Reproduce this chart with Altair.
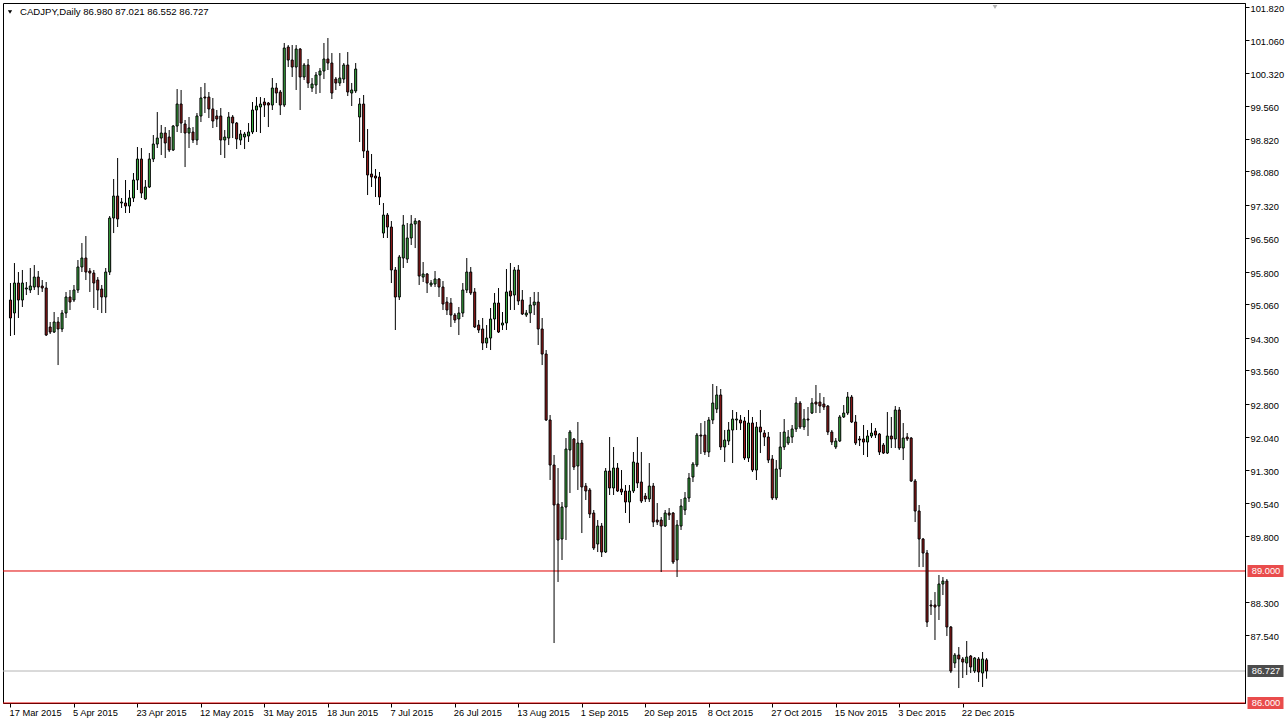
import json
import altair as alt
import pandas as pd

# Daily CAD/JPY candles, 17 Mar 2015 - 29 Dec 2015 (six sessions per week)
open_ = [
    95.159, 94.864, 95.545, 95.159, 95.409, 95.386, 95.454, 95.681, 95.477, 95.432,
    94.545, 94.431, 94.659, 94.500, 94.863, 95.227, 95.159, 95.386, 95.909, 96.113,
    95.818, 95.772, 95.613, 95.409, 95.227, 95.795, 97.022, 97.522, 97.363, 97.363,
    97.295, 97.477, 97.886, 98.363, 97.454, 97.727, 98.363, 98.704, 98.840, 98.954,
    98.863, 98.568, 99.113, 99.613, 99.159, 98.954, 98.977, 98.795, 99.341, 99.772,
    99.772, 99.500, 99.341, 99.341, 98.795, 98.840, 99.318, 99.181, 98.795, 98.863,
    98.886, 98.977, 99.477, 99.545, 99.659, 99.636, 99.590, 99.977, 99.886, 99.590,
    100.909, 100.613, 100.454, 100.863, 100.227, 100.500, 99.977, 100.045, 100.272, 100.363,
    100.636, 100.545, 100.181, 100.090, 100.181, 100.500, 99.863, 99.909, 99.318, 99.613,
    98.545, 98.022, 97.977, 97.954, 96.681, 97.090, 96.818, 95.841, 95.227, 96.113,
    96.090, 96.568, 96.886, 96.954, 95.681, 95.750, 95.500, 95.522, 95.636, 95.454,
    95.113, 95.090, 94.818, 94.727, 94.863, 95.386, 95.795, 95.341, 94.590, 94.500,
    94.181, 94.295, 94.727, 95.090, 94.590, 94.636, 95.363, 95.272, 95.841, 95.159,
    94.818, 94.863, 95.045, 95.113, 94.500, 93.931, 92.432, 91.409, 90.522, 89.727,
    90.454, 91.750, 92.000, 91.386, 91.909, 90.931, 90.841, 90.318, 89.613, 90.022,
    89.431, 91.272, 90.886, 91.340, 90.863, 90.818, 90.568, 90.818, 91.454, 91.022,
    90.704, 90.636, 90.931, 90.159, 90.159, 90.022, 90.318, 90.318, 89.250, 90.022,
    90.386, 90.659, 91.136, 91.409, 92.090, 92.090, 91.704, 92.432, 92.681, 93.000,
    91.818, 91.954, 92.204, 92.432, 92.432, 92.409, 91.568, 92.363, 91.295, 92.272,
    92.136, 92.045, 91.545, 90.659, 91.318, 91.818, 91.909, 92.045, 92.227, 92.818,
    92.272, 92.454, 92.590, 92.840, 92.840, 92.795, 92.750, 92.159, 91.818, 91.954,
    92.500, 92.590, 92.954, 92.386, 92.000, 92.000, 91.931, 92.068, 92.181, 92.113,
    91.863, 91.681, 92.068, 92.000, 92.659, 91.795, 92.045, 92.022, 91.045, 90.363,
    89.727, 89.409, 88.227, 88.227, 88.204, 88.704, 88.772, 87.727, 86.909, 87.090,
    87.000, 86.909, 87.068, 86.727, 87.000, 86.681, 86.980,
]
high = [
    95.545, 95.999, 95.795, 95.841, 95.568, 95.886, 95.954, 95.818, 95.613, 95.568,
    94.659, 94.886, 94.772, 94.932, 95.341, 95.386, 95.500, 96.068, 96.454, 96.613,
    95.886, 95.841, 95.681, 95.500, 95.886, 97.068, 97.909, 98.386, 97.477, 97.886,
    97.659, 98.045, 98.636, 98.613, 97.886, 98.500, 98.909, 99.431, 99.136, 99.090,
    99.022, 99.136, 99.954, 99.932, 99.250, 99.318, 99.090, 99.409, 100.000, 100.091,
    99.886, 99.750, 99.477, 99.522, 99.022, 99.431, 99.363, 99.204, 99.022, 98.977,
    99.181, 99.659, 99.772, 99.772, 99.750, 99.659, 100.204, 100.091, 99.932, 101.000,
    100.954, 100.954, 100.954, 100.886, 100.545, 100.636, 100.204, 100.341, 100.431, 101.000,
    101.113, 100.772, 100.227, 100.772, 100.545, 100.795, 100.091, 100.545, 99.750, 99.818,
    99.045, 98.477, 98.136, 98.068, 97.363, 97.136, 96.954, 95.909, 96.181, 97.090,
    96.909, 97.090, 97.022, 96.977, 96.022, 95.772, 95.613, 95.818, 95.659, 95.590,
    95.227, 95.204, 94.863, 95.000, 95.545, 96.113, 95.909, 95.431, 94.704, 94.750,
    94.590, 94.977, 95.318, 95.431, 94.886, 95.863, 96.000, 95.909, 95.954, 95.386,
    94.932, 95.227, 95.341, 95.341, 94.750, 94.022, 92.545, 91.636, 91.340, 90.568,
    92.022, 92.204, 92.022, 92.386, 91.977, 91.000, 90.886, 90.386, 90.159, 90.090,
    91.340, 92.045, 91.818, 91.454, 91.295, 90.954, 90.954, 91.704, 92.045, 91.704,
    90.772, 91.454, 91.000, 90.545, 90.227, 90.386, 90.431, 90.340, 90.159, 90.636,
    90.795, 91.227, 91.477, 92.136, 92.363, 92.409, 92.500, 93.250, 93.204, 93.136,
    92.204, 92.386, 92.659, 92.613, 92.545, 92.500, 92.659, 92.500, 92.386, 92.659,
    92.204, 92.159, 91.636, 91.522, 92.159, 92.454, 92.204, 92.318, 92.954, 92.863,
    92.681, 92.727, 92.931, 93.227, 93.045, 92.954, 92.772, 92.204, 92.022, 92.545,
    92.772, 93.068, 93.000, 92.545, 92.068, 92.318, 92.204, 92.363, 92.250, 92.136,
    91.909, 92.613, 92.500, 92.750, 92.727, 92.363, 92.136, 92.045, 91.090, 90.500,
    89.750, 89.477, 88.340, 88.522, 88.909, 88.863, 88.818, 87.750, 87.136, 87.272,
    87.045, 87.409, 87.090, 87.045, 87.045, 87.159, 87.021,
]
low = [
    94.341, 94.363, 94.750, 95.000, 95.272, 95.318, 95.386, 95.272, 95.341, 94.341,
    94.386, 94.409, 93.681, 94.431, 94.750, 94.932, 95.113, 95.318, 95.795, 95.613,
    95.341, 94.977, 94.932, 94.863, 94.863, 95.727, 96.681, 96.818, 97.250, 97.136,
    97.136, 97.386, 97.659, 97.477, 97.432, 97.704, 98.295, 98.613, 98.454, 98.386,
    98.522, 98.545, 98.977, 98.954, 98.181, 98.613, 98.727, 98.681, 99.204, 99.409,
    99.295, 99.068, 99.090, 98.454, 98.386, 98.681, 98.840, 98.590, 98.681, 98.590,
    98.750, 98.931, 98.977, 98.954, 99.318, 99.090, 99.477, 99.636, 99.363, 99.545,
    100.454, 100.227, 99.932, 99.477, 100.159, 99.977, 99.886, 99.841, 99.863, 100.181,
    100.386, 99.727, 99.932, 100.022, 100.090, 99.795, 99.568, 99.863, 98.750, 98.386,
    97.545, 97.727, 97.500, 97.318, 96.568, 96.568, 95.545, 94.477, 95.159, 95.886,
    96.000, 96.409, 96.340, 95.500, 95.568, 95.318, 95.454, 95.454, 95.227, 94.932,
    94.818, 94.545, 94.636, 94.363, 94.772, 95.318, 95.272, 94.522, 94.409, 94.022,
    94.068, 94.022, 94.477, 94.409, 94.477, 94.477, 94.932, 94.932, 95.045, 94.818,
    94.772, 94.636, 94.818, 94.136, 93.681, 92.409, 91.068, 87.363, 88.750, 89.250,
    89.704, 90.772, 91.295, 90.841, 89.863, 90.613, 90.204, 89.477, 89.431, 89.318,
    89.409, 90.727, 90.727, 90.795, 90.727, 90.318, 90.090, 90.772, 90.886, 90.545,
    90.568, 90.568, 90.000, 90.045, 88.977, 90.000, 90.159, 89.159, 88.863, 89.932,
    90.272, 90.568, 91.022, 91.363, 91.659, 91.636, 91.590, 92.340, 92.590, 91.750,
    91.477, 91.863, 91.454, 92.204, 92.204, 91.522, 91.477, 91.250, 91.068, 91.681,
    91.840, 91.454, 90.613, 90.613, 91.136, 91.750, 91.863, 91.909, 92.159, 92.227,
    92.204, 92.068, 92.568, 92.590, 92.590, 92.659, 92.090, 91.863, 91.772, 91.931,
    92.477, 92.545, 92.363, 91.863, 91.840, 91.636, 91.590, 92.022, 92.022, 91.636,
    91.659, 91.659, 91.795, 91.795, 91.750, 91.522, 91.954, 91.022, 90.113, 89.090,
    89.090, 87.727, 88.000, 87.432, 87.886, 88.454, 87.522, 86.681, 86.795, 86.340,
    86.568, 86.636, 86.681, 86.681, 86.477, 86.363, 86.552,
]
close = [
    94.750, 95.545, 95.159, 95.545, 95.432, 95.477, 95.681, 95.454, 95.432, 94.363,
    94.431, 94.659, 94.500, 94.863, 95.227, 95.113, 95.386, 95.909, 96.113, 95.795,
    95.772, 95.545, 95.386, 95.227, 95.795, 97.022, 97.522, 97.000, 97.386, 97.295,
    97.477, 97.886, 98.363, 97.590, 97.727, 98.363, 98.704, 98.840, 98.954, 98.727,
    98.568, 99.113, 99.613, 99.181, 98.954, 99.068, 98.795, 99.341, 99.750, 99.750,
    99.500, 99.227, 99.272, 98.795, 98.863, 99.318, 99.181, 98.818, 98.931, 98.931,
    98.977, 99.477, 99.568, 99.613, 99.590, 99.590, 99.977, 99.863, 99.590, 100.886,
    100.613, 100.454, 100.863, 100.227, 100.500, 100.090, 100.068, 100.272, 100.363, 100.636,
    100.545, 99.863, 100.090, 100.204, 100.500, 99.886, 99.932, 100.409, 99.613, 98.545,
    98.000, 97.954, 97.931, 97.500, 97.090, 96.818, 95.841, 95.227, 96.136, 96.863,
    96.568, 96.886, 96.954, 95.704, 95.750, 95.545, 95.545, 95.636, 95.454, 95.068,
    94.932, 94.818, 94.704, 94.863, 95.386, 95.795, 95.318, 94.545, 94.477, 94.181,
    94.295, 94.727, 95.090, 94.431, 94.636, 95.341, 95.250, 95.841, 95.136, 94.840,
    94.863, 95.045, 95.113, 94.500, 93.931, 92.432, 91.409, 90.500, 89.704, 90.454,
    91.772, 92.159, 91.363, 91.909, 90.909, 90.818, 90.295, 89.522, 90.022, 89.431,
    91.272, 90.886, 91.340, 90.818, 90.795, 90.568, 90.818, 91.477, 91.000, 90.590,
    90.636, 90.931, 90.113, 90.113, 90.022, 90.318, 90.272, 89.204, 90.045, 90.477,
    90.659, 91.113, 91.431, 92.090, 92.068, 91.704, 92.432, 92.818, 93.000, 91.818,
    91.977, 92.204, 92.454, 92.454, 92.363, 91.568, 92.363, 91.295, 92.272, 92.159,
    92.045, 91.522, 90.659, 91.318, 91.818, 92.159, 92.045, 92.227, 92.818, 92.272,
    92.454, 92.432, 92.818, 92.795, 92.750, 92.727, 92.159, 91.931, 91.954, 92.500,
    92.590, 92.954, 92.386, 91.909, 91.977, 91.931, 92.068, 92.136, 92.090, 91.704,
    91.681, 92.068, 92.000, 92.659, 91.795, 92.022, 92.000, 91.045, 90.363, 89.727,
    89.409, 87.840, 88.204, 88.181, 88.704, 88.772, 87.727, 86.727, 87.090, 87.000,
    86.931, 87.045, 86.818, 87.022, 86.704, 87.000, 86.727,
]

# Date labels on the time axis and the session they sit on
tick_bars = [0, 16, 32, 48, 64, 80, 96, 112, 128, 144, 160, 176, 192, 208, 224, 240]
tick_dates = [
    "17 Mar 2015", "5 Apr 2015", "23 Apr 2015", "12 May 2015", "31 May 2015",
    "18 Jun 2015", "7 Jul 2015", "26 Jul 2015", "13 Aug 2015", "1 Sep 2015",
    "20 Sep 2015", "8 Oct 2015", "27 Oct 2015", "15 Nov 2015", "3 Dec 2015",
    "22 Dec 2015",
]

# Price scale labels
price_ticks = [101.82, 101.06, 100.32, 99.56, 98.82, 98.08, 97.32, 96.56, 95.80,
               95.06, 94.30, 93.56, 92.80, 92.04, 91.30, 90.54, 89.80, 88.30, 87.54]

# Horizontal levels drawn across the chart
red_levels = [89.000, 86.000]
bid_price = close[-1]

symbol = "CADJPY,Daily"

FONT = "Liberation Sans"
AXIS_FONT_SIZE = 9.3
BULL = "#3cb043"
BEAR = "#9e1b1b"
LEVEL_RED = "#e00000"

n = len(open_)
candles = pd.DataFrame({
    "bar": list(range(n)),
    "open": open_,
    "high": high,
    "low": low,
    "close": close,
})
candles["dir"] = ["up" if c >= o else "down" for o, c in zip(open_, close)]

x_scale = alt.Scale(domain=[-0.625, 309.875], nice=False, zero=False)
y_scale = alt.Scale(domain=[86.0, 101.909], nice=False, zero=False)

label_expr = f"{json.dumps(tick_dates)}[indexof({json.dumps(tick_bars)}, datum.value)]"

x_axis = alt.Axis(
    values=tick_bars, labelExpr=label_expr, title=None, grid=False, domain=False,
    ticks=True, tickSize=4, tickColor="black", labelAlign="left", labelBaseline="top",
    labelPadding=1, labelOffset=-1.5, labelFont=FONT, labelFontSize=AXIS_FONT_SIZE,
    labelColor="black", labelOverlap=False, labelFlush=False,
)
y_axis = alt.Axis(
    orient="right", values=price_ticks, format=".3f", title=None, grid=False,
    domain=True, domainColor="black", ticks=True, tickSize=4, tickColor="black",
    labelPadding=1, labelOffset=1.5, labelFont=FONT, labelFontSize=AXIS_FONT_SIZE,
    labelColor="black", labelOverlap=False, labelFlush=False, labelBaseline="middle",
)


def X(field):
    return alt.X(field, scale=x_scale, axis=x_axis)


def Y(field):
    return alt.Y(field, scale=y_scale, axis=y_axis)


base = alt.Chart(candles)

wicks = base.mark_rule(color="black", strokeWidth=1).encode(
    x=X("bar:Q"), y=Y("low:Q"), y2="high:Q",
)

bodies = base.mark_bar(size=2, stroke="black", strokeWidth=1).encode(
    x=X("bar:Q"),
    y=Y("open:Q"),
    y2="close:Q",
    fill=alt.Fill("dir:N", scale=alt.Scale(domain=["up", "down"], range=[BULL, BEAR]),
                  legend=None),
)

levels = alt.Chart(pd.DataFrame({"price": red_levels})).mark_rule(
    color=LEVEL_RED, strokeWidth=1
).encode(y=Y("price:Q"))

bid_line = alt.Chart(pd.DataFrame({"price": [bid_price]})).mark_rule(
    color="#b4b4b4", strokeWidth=1
).encode(y=Y("price:Q"))

# Price tags on the right-hand scale
tags = pd.DataFrame({
    "price": red_levels + [bid_price],
    "label": [f"{v:.3f}" for v in red_levels + [bid_price]],
    "kind": ["level", "level", "bid"],
})
tag_boxes = alt.Chart(tags).mark_tick(orient="horizontal", size=36, thickness=12).encode(
    y=Y("price:Q"),
    x=alt.value(1262.5),
    color=alt.Color("kind:N", scale=alt.Scale(domain=["level", "bid"],
                                              range=[LEVEL_RED, "black"]), legend=None),
)
tag_text = alt.Chart(tags).mark_text(
    color="white", font=FONT, fontSize=AXIS_FONT_SIZE, align="center", baseline="middle"
).encode(
    y=Y("price:Q"),
    x=alt.value(1263),
    text="label:N",
)

# Header: symbol, timeframe and the last session's OHLC
header_text = f"{symbol}  {open_[-1]:.3f} {high[-1]:.3f} {low[-1]:.3f} {close[-1]:.3f}"
header = alt.Chart(pd.DataFrame({"t": [header_text]})).mark_text(
    align="left", baseline="middle", font=FONT, fontSize=9.6, color="black"
).encode(x=alt.value(17), y=alt.value(9), text="t:N")
header_arrow = alt.Chart(pd.DataFrame({"t": [0]})).mark_point(
    shape="triangle-down", filled=True, color="black", size=18, opacity=1
).encode(x=alt.value(7), y=alt.value(9))

shift_marker = alt.Chart(pd.DataFrame({"t": [0]})).mark_point(
    shape="triangle-down", filled=True, color="#b0b0b0", size=22, opacity=1
).encode(x=alt.value(992), y=alt.value(4))

chart = alt.layer(
    levels, bid_line, wicks, bodies, tag_boxes, tag_text, header, header_arrow, shift_marker
).properties(
    width=1242, height=700,
    padding={"left": 3, "top": 3, "right": 42, "bottom": 24},
    autosize=alt.AutoSizeParams(type="none"),
    background="white",
).configure_view(stroke="black", strokeWidth=1)

chart.save("out.html", embed_options={"renderer": "svg", "actions": False})
